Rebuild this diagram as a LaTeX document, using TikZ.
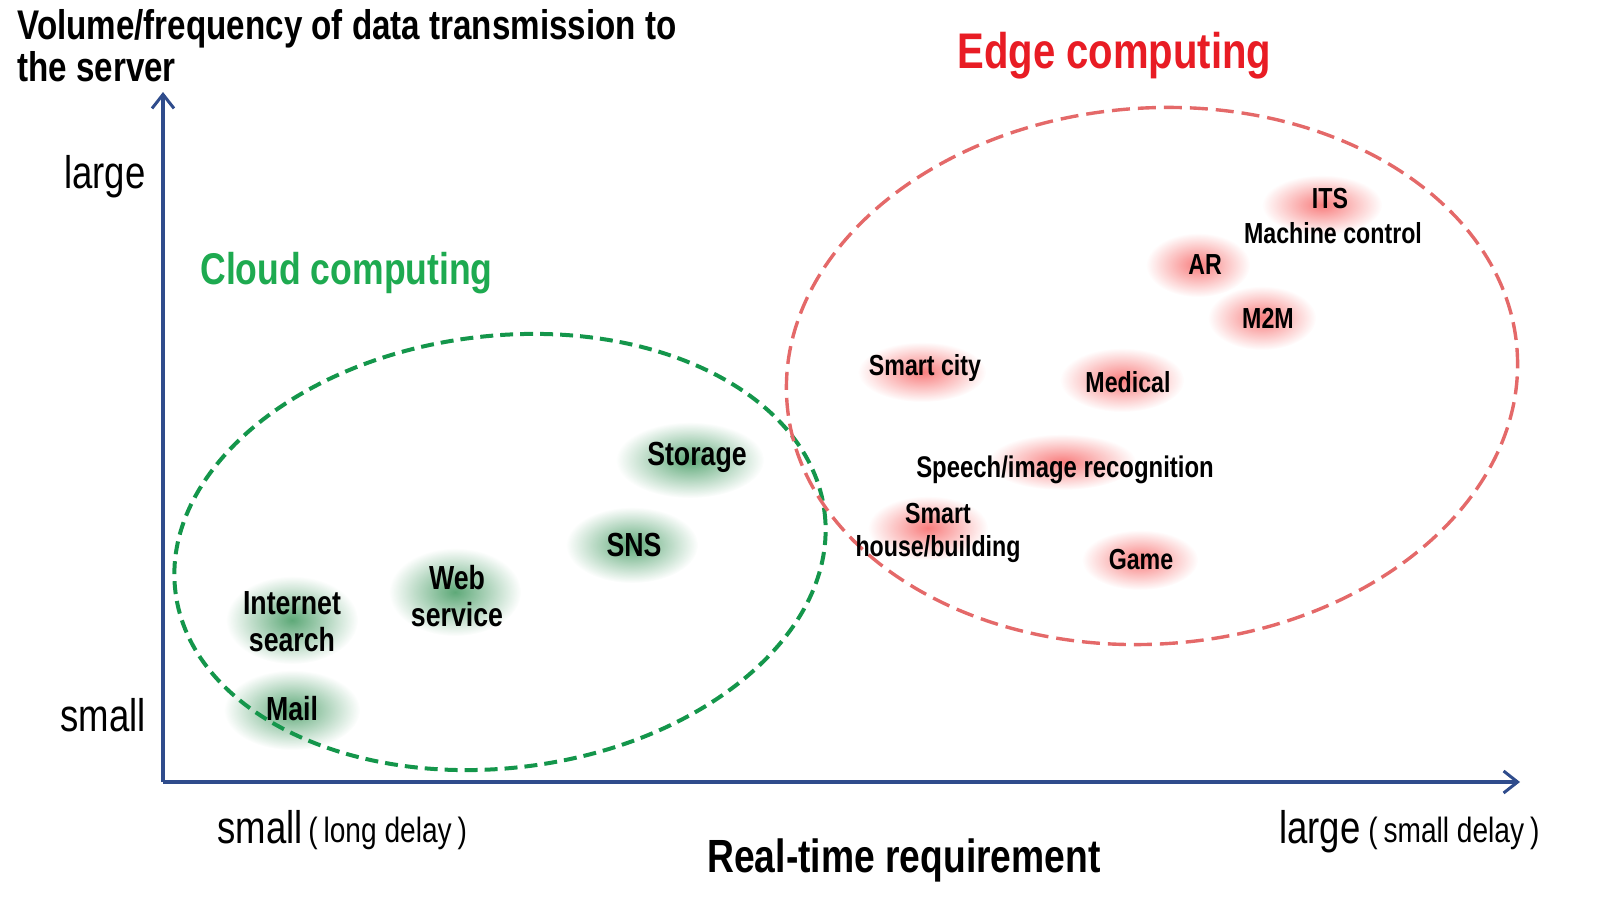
\documentclass[tikz,border=0pt]{standalone}
\usepackage{fontspec}
\setmainfont{Liberation Sans}[FakeStretch=0.8]
\usetikzlibrary{arrows.meta,fadings}
\definecolor{axisblue}{RGB}{47,76,140}
\definecolor{cloudgreen}{RGB}{20,150,75}
\definecolor{edgered}{RGB}{228,105,105}
\definecolor{titlered}{RGB}{232,28,36}
\definecolor{titlegreen}{RGB}{30,170,80}
\definecolor{glowg}{RGB}{40,140,75}
\definecolor{glowr}{RGB}{245,70,70}
\tikzfading[name=glowfade, inner color=transparent!0, outer color=transparent!100]
\tikzset{
  axisline/.style={draw=axisblue, line width=3.2pt*0.569, -{Straight Barb[length=14pt*0.569, width=22pt*0.569, line width=3pt*0.569]}},
  cloudlab/.style={font=\bfseries\fontsize{19}{21}\selectfont, align=center, inner sep=0pt},
  edgelab/.style={font=\bfseries\fontsize{16.5}{18.5}\selectfont, align=center, inner sep=0pt},
  axlab/.style={font=\fontsize{26}{28}\selectfont, inner sep=0pt},
  smalllab/.style={font=\fontsize{20}{22}\selectfont, inner sep=0pt},
  gglow/.style={fill=glowg, fill opacity=0.75, path fading=glowfade},
  rglow/.style={fill=glowr, fill opacity=0.7, path fading=glowfade},
}
\begin{document}
\begin{tikzpicture}[x=0.02cm, y=-0.02cm]
\useasboundingbox (0,0) rectangle (1623,909);
% glows (cloud)
\fill[gglow] (690,460) ellipse [x radius=74, y radius=38];
\fill[gglow] (632,545) ellipse [x radius=66, y radius=38];
\fill[gglow] (455,592) ellipse [x radius=66, y radius=44];
\fill[gglow] (292,620) ellipse [x radius=66, y radius=44];
\fill[gglow] (292,710) ellipse [x radius=68, y radius=40];
% glows (edge)
\fill[rglow] (1322,205) ellipse [x radius=60, y radius=30];
\fill[rglow] (1198,265) ellipse [x radius=52, y radius=32];
\fill[rglow] (1262,318) ellipse [x radius=54, y radius=32];
\fill[rglow] (922,372) ellipse [x radius=64, y radius=30];
\fill[rglow] (1122,380) ellipse [x radius=62, y radius=32];
\fill[rglow] (1062,462) ellipse [x radius=74, y radius=28];
\fill[rglow] (928,528) ellipse [x radius=60, y radius=32];
\fill[rglow] (1140,560) ellipse [x radius=58, y radius=30];
% ellipses
\draw[cloudgreen, line width=4pt*0.569, dash pattern=on 13pt*0.569 off 7pt*0.569, rotate around={7:(500,552)}] (500,552) ellipse [x radius=327, y radius=216];
\draw[edgered, line width=3.4pt*0.569, dash pattern=on 18pt*0.569 off 8pt*0.569, rotate around={4:(1152,376)}] (1152,376) ellipse [x radius=366, y radius=268];
% axes
\coordinate (origin) at (163,782);
\coordinate (ytip) at (163,92);
\coordinate (xtip) at (1520,782);
\draw[axisline] (origin) -- (ytip);
\draw[axisline] (origin) -- (xtip);
% heading
\node[font=\bfseries\fontsize{23.6}{25}\selectfont, anchor=base west, inner sep=0pt] (head1) at (17,40) {Volume/frequency of data transmission to};
\node[font=\bfseries\fontsize{23.6}{25}\selectfont, anchor=base west, inner sep=0pt] (head2) at (17,82) {the server};
% axis labels
\node[axlab, anchor=base east] (ylarge) at (146,188) {large};
\node[axlab, anchor=base east] (ysmall) at (146,731) {small};
\node[axlab, anchor=base west] (xsmall) at (217,843) {small};
\node[smalllab, anchor=base west] (xsmallnote) at (308,842) {(\,long delay\,)};
\node[axlab, anchor=base west] (xlarge) at (1279,843) {large};
\node[smalllab, anchor=base west] (xlargenote) at (1368,842) {(\,small delay\,)};
\node[font=\bfseries\fontsize{26.5}{28}\selectfont, anchor=base, inner sep=0pt] (xtitle) at (904,872) {Real-time requirement};
% titles
\node[font=\bfseries\fontsize{25.3}{27}\selectfont, text=titlegreen, anchor=base west, inner sep=0pt] (cloudtitle) at (200,284) {Cloud computing};
\node[font=\bfseries\fontsize{28.5}{30}\selectfont, text=titlered, anchor=base west, inner sep=0pt] (edgetitle) at (957,69) {Edge computing};
% cloud items
\node[cloudlab] (storage) at (697,457) {Storage};
\node[cloudlab] (sns) at (634,545) {SNS};
\node[cloudlab] (web) at (457,596) {Web\\service};
\node[cloudlab] (internet) at (292,622) {Internet\\search};
\node[cloudlab] (mail) at (292,709) {Mail};
% edge items
\node[edgelab] (its) at (1330,199) {ITS};
\node[edgelab] (machine) at (1333,233) {Machine control};
\node[edgelab] (ar) at (1205,265) {AR};
\node[edgelab] (m2m) at (1268,318) {M2M};
\node[edgelab] (smartcity) at (925,368) {Smart city};
\node[edgelab] (medical) at (1128,382) {Medical};
\node[edgelab, font=\bfseries\fontsize{17}{19}\selectfont] (speech) at (1065,470) {Speech/image recognition};
\node[edgelab] (smarthouse) at (938,533) {Smart\\house/building};
\node[edgelab] (game) at (1141,560) {Game};
\end{tikzpicture}
\end{document}
